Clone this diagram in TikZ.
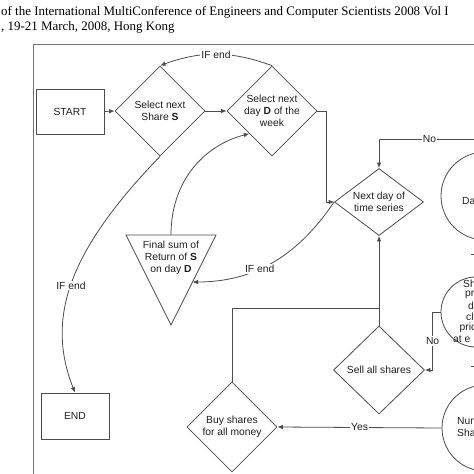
\documentclass[tikz,border=0pt]{standalone}
\usepackage{fontspec}
\setmainfont{Liberation Serif}
\newfontfamily\arialf{Liberation Sans}
\usetikzlibrary{arrows.meta,shapes.geometric}
\tikzset{
  ln/.style={draw=black!70, line width=0.8pt},
  arr/.style={ln, -{Latex[length=5.5pt,width=4.5pt]}},
  txt/.style={font=\arialf\fontsize{10.3}{12}\selectfont, text=black!88, align=center},
  lbl/.style={txt, fill=white, inner sep=1pt},
  dia/.style={ln, diamond, minimum width=90pt, minimum height=90pt, inner sep=0pt},
  boxn/.style={ln, rectangle, minimum width=68pt, minimum height=45pt, inner sep=0pt, txt},
  circ/.style={ln, circle, inner sep=0pt},
  frag/.style={txt, anchor=west, inner sep=0pt},
  hdr/.style={font=\fontsize{12.95}{14}\selectfont, text=black, anchor=base west, inner sep=0pt}
}
\begin{document}
\begin{tikzpicture}[x=1pt,y=1pt]
\useasboundingbox[fill=white] (0,0) rectangle (474,-474);
% header
\node[hdr] (h1) at (1,-15) {of the International MultiConference of Engineers and Computer Scientists 2008 Vol I};
\node[hdr] (h2) at (1,-30) {, 19-21 March, 2008, Hong Kong};
% frame
\draw[ln, draw=black!55] (33,-474) -- (33,-44) -- (474,-44);
% nodes
\node[boxn] (start) at (70,-111.5) {START};
\node[boxn, minimum height=46pt] (end) at (75,-416) {END};
\node[dia] (share) at (160,-111) {};
\node[txt] (shareT) at (160,-111) {Select next\\Share \textbf{S}};
\node[dia] (dayd) at (272,-111) {};
\node[txt] (daydT) at (272,-111) {Select next\\day \textbf{D} of the\\week};
\node[dia, minimum width=89pt, minimum height=67pt] (next) at (379,-202) {};
\node[txt] (nextT) at (379,-202) {Next day of\\time series};
\node[dia, minimum width=91pt, minimum height=88pt] (sell) at (379,-370) {};
\node[txt] (sellT) at (379,-370) {Sell all shares};
\node[dia] (buy) at (232,-427) {};
\node[txt] (buyT) at (232,-427) {Buy shares\\for all money};
% triangle
\draw[ln] (126,-235) -- (216,-235) -- (171,-325) -- cycle;
\coordinate (triTop) at (171,-235);
\coordinate (triR) at (192.5,-282);
\node[txt] (triT) at (171,-257.5) {Final sum of\\Return of \textbf{S}\\on day \textbf{D}};
% right circles (cropped by the picture's edge, as in the reference)
\node[circ, minimum size=88pt] (dac) at (485,-196) {};
\node[frag] (daT) at (462,-201) {Da};
\node[circ, minimum size=70pt] (spc) at (476,-312) {};
\node[frag] (sp1) at (463,-284) {Sh};
\node[frag] (sp2) at (465,-295) {pr};
\node[frag] (sp3) at (468,-306) {d};
\node[frag] (sp4) at (466,-317) {cl};
\node[frag] (sp5) at (459.5,-328) {pric};
\node[frag] (sp6) at (453,-339) {at e};
\node[circ, minimum size=86pt] (num) at (485,-428) {};
\node[frag] (nm1) at (457,-421) {Num};
\node[frag] (nm2) at (457,-433) {Sha};
\coordinate (noR) at (480,-139);
\coordinate (jn) at (379,-308);
\coordinate (tk1a) at (471,-254);
\coordinate (tk1b) at (475,-254);
\coordinate (tk2a) at (471,-366);
\coordinate (tk2b) at (475,-366);
% connectors
\draw[arr] (start.east) -- (share.west);
\draw[arr] (share.east) -- (dayd.west);
\draw[arr] (dayd.north) to[out=160,in=20] node[lbl]{IF end} (share.north);
\draw[arr] (dayd.east) -- ++(9,0) |- (next.west);
\draw[arr] (triTop) .. controls (171,-180) and (205,-145) .. (dayd.south west);
\draw[arr] (next.west) .. controls (299,-254) and (256,-282) .. node[lbl, pos=0.6]{IF end} (triR);
\draw[arr] (share.south) .. controls (70,-249.5) and (45,-317) .. node[lbl, pos=0.52]{IF end} (end.north);
\draw[arr] (noR) -| node[lbl, pos=0.25]{No} (next.north);
\draw[arr] (sell.north) -- (next.south);
\draw[ln] (jn) -| (buy.north);
\draw[arr] (spc.west) -- ++(-8,0) |- node[lbl, pos=0.25]{No} (sell.east);
\draw[arr] (num.west) -- node[lbl]{Yes} (buy.east);
\draw[ln] (tk1a) -- (tk1b);
\draw[ln] (tk2a) -- (tk2b);
\end{tikzpicture}
\end{document}
